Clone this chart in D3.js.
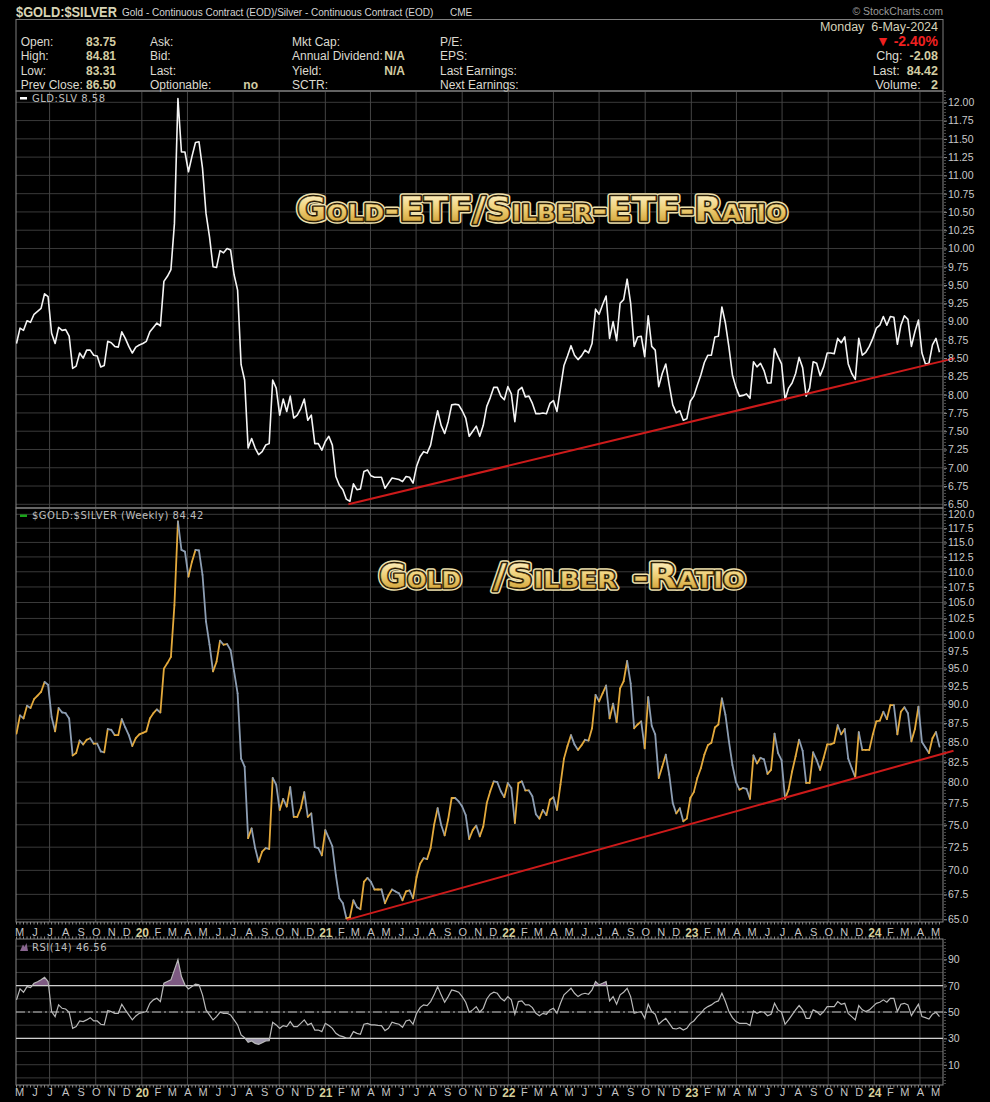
<!DOCTYPE html>
<html>
<head>
<meta charset="utf-8">
<title>$GOLD:$SILVER weekly</title>
<script src="https://cdn.jsdelivr.net/npm/d3@7"></script>
<style>
  body { margin: 0; background: #000; }
  svg { display: block; font-family: "Liberation Sans", Arial, sans-serif; }
  .fancy text { font-family: "DejaVu Sans", sans-serif; font-weight: bold; font-size: 33px; font-variant: small-caps; }
</style>
</head>
<body>
<svg id="chart"></svg>
<script>
// weekly closes, first week ends 26-Apr-2019
const firstWeek = "2019-04-26";

// $GOLD:$SILVER (weekly)
const ratioWeekly = [
  86.1, 88.5, 88.1, 89.8, 89.5, 90.7, 91.2, 91.7, 93.1, 92.7,
  88.3, 86.4, 89.5, 88.9, 88.8, 88.1, 83.3, 83.6, 85.2, 84.7,
  85.3, 85.5, 84.8, 84.8, 83.8, 83.7, 86.7, 86.6, 85.9, 85.9,
  88.0, 86.9, 85.9, 84.5, 85.5, 86.0, 86.2, 86.4, 88.1, 88.8,
  89.3, 88.9, 95.0, 95.8, 96.7, 104.6, 118.7, 113.7, 113.4, 109.2,
  111.7, 113.7, 113.6, 109.5, 102.0, 98.5, 94.6, 96.0, 99.1, 98.5,
  98.6, 97.7, 94.6, 91.5, 82.9, 81.9, 73.5, 74.6, 72.4, 70.9,
  72.0, 72.4, 72.3, 80.5, 79.7, 76.7, 78.0, 77.1, 79.4, 75.9,
  75.9, 76.9, 78.8, 75.9, 76.3, 72.5, 72.4, 71.6, 74.4, 73.5,
  72.6, 69.5, 67.1, 66.6, 65.1, 65.2, 66.9, 66.2, 66.0, 68.8,
  69.2, 68.8, 68.0, 68.0, 68.0, 66.6, 67.4, 68.0, 67.8, 67.6,
  66.9, 67.8, 67.9, 67.1, 69.3, 70.7, 71.3, 71.2, 72.4, 75.0,
  76.9, 75.0, 73.8, 75.6, 78.1, 78.1, 77.7, 77.1, 76.1, 73.4,
  74.4, 74.9, 73.7, 74.8, 77.5, 78.9, 80.1, 80.0, 78.9, 78.2,
  79.9, 79.3, 75.2, 79.9, 80.1, 79.0, 79.0, 78.3, 76.2, 75.7,
  76.7, 76.1, 77.9, 78.2, 76.7, 79.7, 82.9, 84.5, 85.9, 84.7,
  84.0, 84.6, 85.3, 85.2, 86.8, 91.3, 90.4, 91.5, 92.6, 88.1,
  90.1, 87.6, 92.2, 93.2, 96.1, 92.9, 86.8, 87.3, 87.7, 84.2,
  91.0, 87.1, 86.0, 80.5, 81.9, 83.4, 80.9, 77.5, 76.3, 76.9,
  75.4, 75.7, 78.1, 78.8, 80.5, 81.7, 83.4, 84.6, 84.9, 86.9,
  87.3, 90.8, 88.6, 85.1, 82.1, 80.0, 79.1, 79.3, 79.2, 78.0,
  83.3, 82.3, 83.0, 82.8, 81.0, 81.5, 86.1, 83.6, 82.7, 78.0,
  79.1, 81.3, 83.2, 85.3, 83.9, 79.9, 79.9, 83.7, 82.7, 81.5,
  83.0, 84.7, 84.7, 84.9, 87.2, 86.0, 86.7, 82.9, 81.7, 80.6,
  86.3, 84.0, 84.0, 84.0, 86.0, 87.7, 87.8, 89.0, 88.0, 89.9,
  89.9, 86.0, 89.0, 89.6, 88.8, 85.1, 86.7, 89.7, 85.0, 84.3,
  83.6, 85.5, 86.3, 84.42
];

// GLD:SLV (weekly)
const etfWeekly = [
  8.70, 8.91, 8.88, 9.01, 8.99, 9.10, 9.14, 9.18, 9.38, 9.34,
  8.84, 8.70, 8.92, 8.88, 8.89, 8.80, 8.36, 8.39, 8.57, 8.50,
  8.61, 8.61, 8.54, 8.53, 8.38, 8.40, 8.73, 8.71, 8.66, 8.65,
  8.86, 8.77, 8.66, 8.57, 8.65, 8.68, 8.70, 8.73, 8.86, 8.92,
  8.98, 8.94, 9.55, 9.62, 9.71, 10.34, 12.05, 11.32, 11.32, 11.05,
  11.26, 11.45, 11.46, 11.10, 10.48, 10.16, 9.75, 9.74, 9.97, 9.94,
  10.00, 9.98, 9.64, 9.43, 8.41, 8.20, 7.27, 7.40, 7.27, 7.18,
  7.22, 7.31, 7.33, 8.20, 8.09, 7.72, 7.94, 7.77, 7.98, 7.68,
  7.72, 7.81, 7.94, 7.65, 7.72, 7.33, 7.33, 7.24, 7.36, 7.43,
  7.31, 6.88, 6.76, 6.70, 6.57, 6.54, 6.78, 6.70, 6.71, 6.95,
  6.97, 6.89, 6.87, 6.87, 6.87, 6.72, 6.79, 6.86, 6.85, 6.84,
  6.81, 6.88, 6.87, 6.79, 7.02, 7.15, 7.22, 7.20, 7.31, 7.56,
  7.78, 7.58, 7.47, 7.63, 7.86, 7.87, 7.86, 7.78, 7.68, 7.43,
  7.50, 7.57, 7.43, 7.58, 7.84, 7.96, 8.10, 8.10, 7.98, 7.93,
  8.11, 8.01, 7.63, 8.06, 8.10, 7.97, 7.98, 7.88, 7.74, 7.74,
  7.75, 7.74, 7.88, 7.92, 7.77, 8.09, 8.40, 8.53, 8.67, 8.54,
  8.48, 8.53, 8.61, 8.57, 8.70, 9.17, 9.10, 9.23, 9.35, 8.77,
  9.00, 8.74, 9.25, 9.30, 9.58, 9.25, 8.66, 8.79, 8.80, 8.52,
  9.08, 8.66, 8.61, 8.11, 8.29, 8.42, 8.13, 7.86, 7.75, 7.78,
  7.65, 7.67, 7.91, 7.98, 8.13, 8.27, 8.44, 8.54, 8.54, 8.79,
  8.80, 9.20, 8.98, 8.65, 8.27, 8.10, 7.98, 7.99, 8.01, 7.95,
  8.45, 8.38, 8.43, 8.33, 8.16, 8.16, 8.63, 8.52, 8.42, 7.93,
  8.09, 8.16, 8.29, 8.51, 8.37, 7.98, 8.09, 8.45, 8.43, 8.26,
  8.38, 8.57, 8.57, 8.56, 8.77, 8.71, 8.79, 8.42, 8.29, 8.21,
  8.77, 8.54, 8.58, 8.66, 8.77, 8.91, 8.95, 9.07, 8.95, 9.07,
  9.06, 8.69, 8.95, 9.08, 9.03, 8.66, 8.86, 9.02, 8.57, 8.42,
  8.43, 8.68, 8.77, 8.58
];

// RSI(14) of $GOLD:$SILVER
const rsiWeekly = [
  59.2, 67.5, 65.0, 69.3, 68.5, 71.8, 73.0, 74.4, 76.4, 73.1,
  50.3, 46.5, 55.4, 52.8, 52.3, 49.8, 37.6, 38.9, 43.2, 42.7,
  44.0, 45.7, 43.2, 43.2, 40.7, 40.2, 51.1, 50.3, 49.0, 49.0,
  55.9, 51.6, 47.8, 44.0, 47.0, 49.0, 49.6, 50.3, 56.6, 59.2,
  60.4, 57.9, 71.8, 73.1, 74.4, 82.0, 89.6, 76.9, 70.6, 67.5,
  69.3, 71.1, 70.6, 63.0, 51.6, 47.8, 44.0, 46.5, 49.8, 49.0,
  49.0, 47.8, 44.0, 40.2, 32.6, 30.5, 27.0, 28.0, 26.2, 25.4,
  26.7, 28.0, 28.2, 42.2, 40.2, 37.6, 39.7, 38.9, 42.7, 38.9,
  38.9, 41.4, 44.0, 40.2, 41.4, 36.3, 36.3, 35.1, 41.4, 39.7,
  37.6, 33.8, 32.1, 31.3, 30.2, 30.4, 35.1, 33.8, 33.1, 40.7,
  41.4, 40.2, 40.2, 39.9, 39.7, 35.9, 37.6, 42.2, 41.4, 40.7,
  38.4, 43.2, 44.0, 40.7, 49.0, 53.3, 55.4, 54.9, 57.9, 63.0,
  69.3, 63.0, 57.4, 61.7, 66.8, 66.0, 65.0, 61.7, 57.4, 49.8,
  51.6, 54.1, 49.8, 52.8, 59.9, 63.5, 65.0, 64.2, 60.4, 58.4,
  61.7, 59.2, 48.3, 57.9, 58.4, 55.4, 55.4, 53.3, 49.0, 47.2,
  49.0, 48.3, 51.6, 52.8, 49.0, 56.6, 63.0, 65.5, 68.0, 64.2,
  61.7, 63.5, 64.2, 63.5, 66.8, 73.1, 70.6, 71.8, 73.1, 58.4,
  61.7, 55.9, 63.0, 65.0, 68.0, 61.7, 49.0, 49.8, 50.3, 45.2,
  55.9, 50.3, 48.3, 40.7, 43.2, 45.2, 41.4, 37.6, 37.1, 38.1,
  36.3, 37.6, 41.4, 43.2, 46.5, 49.0, 52.3, 54.1, 55.4, 57.4,
  58.4, 64.2, 57.9, 50.3, 45.7, 42.7, 41.4, 41.4, 41.4, 39.7,
  50.8, 49.0, 50.3, 49.8, 47.2, 48.3, 56.6, 51.6, 49.8, 40.7,
  44.0, 47.8, 51.6, 54.9, 51.6, 45.2, 45.2, 51.6, 50.3, 47.8,
  50.3, 54.1, 54.1, 54.1, 57.9, 55.9, 56.6, 49.0, 46.5, 44.0,
  54.9, 51.6, 50.3, 51.6, 54.1, 56.6, 57.4, 59.2, 57.4, 60.4,
  60.4, 50.3, 55.9, 56.6, 55.4, 47.2, 51.6, 55.9, 46.5, 45.7,
  44.7, 48.3, 49.8, 46.56
];

// hand drawn support lines
const etfTrend = [{ date: "2021-02-16", value: 6.50 }, { date: "2024-06-10", value: 8.50 }];
const ratioTrend = [{ date: "2021-02-13", value: 64.94 }, { date: "2024-06-07", value: 83.9 }];

// axis tick labels
const etfTicks = [6.50, 6.75, 7.00, 7.25, 7.50, 7.75, 8.00, 8.25, 8.50, 8.75, 9.00, 9.25,
  9.50, 9.75, 10.00, 10.25, 10.50, 10.75, 11.00, 11.25, 11.50, 11.75, 12.00];
const ratioTicks = [65.0, 67.5, 70.0, 72.5, 75.0, 77.5, 80.0, 82.5, 85.0, 87.5, 90.0, 92.5,
  95.0, 97.5, 100.0, 102.5, 105.0, 107.5, 110.0, 112.5, 115.0, 117.5, 120.0];
const rsiTicks = [10, 30, 50, 70, 90];
const rsiGrid = [0, 10, 20, 30, 40, 50, 60, 70, 80, 90, 100];
const monthLetters = ["J", "F", "M", "A", "M", "J", "J", "A", "S", "O", "N", "D"];

// quote box
const quoteLabels = [
  ["Open:", "High:", "Low:", "Prev Close:"],
  ["Ask:", "Bid:", "Last:", "Optionable:"],
  ["Mkt Cap:", "Annual Dividend:", "Yield:", "SCTR:"],
  ["P/E:", "EPS:", "Last Earnings:", "Next Earnings:"]
];
const quoteValues = [
  ["83.75", "84.81", "83.31", "86.50"],
  ["", "", "", "no"],
  ["", "N/A", "N/A", ""],
  ["", "", "", ""]
];
const quoteDate = "Monday  6-May-2024";
const quoteChangePct = "-2.40%";
const quoteSide = [["Chg:", "-2.08"], ["Last:", "84.42"], ["Volume:", "2"]];

// ---------------------------------------------------------------
const W = 990, H = 1102;
const left = 16, right = 943;
const gridColor = "#3a3a3a", borderColor = "#858585";
const gold = "#e3a93c", steel = "#8c9db2";

const svg = d3.select("#chart").attr("width", W).attr("height", H);
svg.append("rect").attr("width", W).attr("height", H).attr("fill", "#000");

const parseDay = d3.utcParse("%Y-%m-%d");
const week0 = parseDay(firstWeek);
const weekDates = ratioWeekly.map((v, i) => d3.utcDay.offset(week0, 7 * i));
const ratioData = ratioWeekly.map((v, i) => ({ date: weekDates[i], value: v }));
const etfData = etfWeekly.map((v, i) => ({ date: weekDates[i], value: v }));
const rsiData = rsiWeekly.map((v, i) => ({ date: weekDates[i], value: v }));

const x = d3.scaleUtc()
  .domain([parseDay("2019-04-25"), parseDay("2024-05-17")])
  .range([left, right]);

const panels = {
  etf: { top: 91, bottom: 508, y: d3.scaleLinear().domain([6.5, 12]).range([504.3, 102.3]) },
  ratio: { top: 508, bottom: 922, y: d3.scaleLog().domain([65, 120]).range([919.3, 514.3]) },
  rsi: { top: 939, bottom: 1085, y: d3.scaleLinear().domain([0, 100]).range([1077.9, 946.1]) }
};

const quarters = x.ticks(d3.utcMonth.every(3));
const defs = svg.append("defs");

Object.entries(panels).forEach(([key, p]) => {
  defs.append("clipPath").attr("id", "clip-" + key)
    .append("rect").attr("x", left).attr("y", p.top)
    .attr("width", right - left).attr("height", p.bottom - p.top);
});

const grad = defs.append("linearGradient").attr("id", "goldFill")
  .attr("x1", 0).attr("y1", 0).attr("x2", 0).attr("y2", 1);
grad.append("stop").attr("offset", "0%").attr("stop-color", "#fff8d8");
grad.append("stop").attr("offset", "45%").attr("stop-color", "#f0d27c");
grad.append("stop").attr("offset", "100%").attr("stop-color", "#c8921f");

// squeeze a text horizontally so it spans the given width
function fitText(sel, x0, y0, width) {
  const natural = sel.node().getComputedTextLength();
  const k = Math.min(1, width / natural);
  sel.attr("x", 0).attr("y", 0).attr("transform", `translate(${x0},${y0}) scale(${k},1)`);
}

function drawGrid(p, hValues) {
  const g = svg.append("g");
  g.selectAll("line.h").data(hValues).join("line")
    .attr("x1", left).attr("x2", right)
    .attr("y1", d => p.y(d)).attr("y2", d => p.y(d))
    .attr("stroke", gridColor).attr("stroke-width", 1);
  g.selectAll("line.v").data(quarters).join("line")
    .attr("x1", d => x(d)).attr("x2", d => x(d))
    .attr("y1", p.top).attr("y2", p.bottom)
    .attr("stroke", "#444").attr("stroke-width", 1);
  g.append("rect")
    .attr("x", left).attr("y", p.top)
    .attr("width", right - left).attr("height", p.bottom - p.top)
    .attr("fill", "none").attr("stroke", borderColor);
  return g;
}

function drawYAxis(p, values, fmt) {
  const ax = svg.append("g")
    .attr("transform", `translate(${right + 1},0)`)
    .call(d3.axisRight(p.y).tickValues(values).tickFormat(fmt).tickSize(3).tickPadding(1));
  ax.select(".domain").remove();
  ax.append("line").attr("x1", 1).attr("x2", 1).attr("y1", p.top).attr("y2", p.bottom)
    .attr("stroke", "#8a8a8a").attr("stroke-dasharray", "1,2");
  ax.selectAll(".tick line").attr("stroke", "#8a8a8a");
  ax.selectAll(".tick text")
    .attr("fill", "#c9c9c9").attr("font-size", 10.5)
    .attr("font-family", "Liberation Sans, Arial, sans-serif");
}

// ---- header -----------------------------------------------------
fitText(svg.append("text")
  .attr("font-size", 15.5).attr("font-weight", "bold").attr("fill", "#d8d4b6")
  .text("$GOLD:$SILVER"), 16, 16.5, 101);
fitText(svg.append("text")
  .attr("font-size", 11.5).attr("fill", "#d4d4d4")
  .text("Gold - Continuous Contract (EOD)/Silver - Continuous Contract (EOD)"), 122, 15.5, 312);
fitText(svg.append("text")
  .attr("font-size", 10).attr("fill", "#d4d4d4")
  .text("CME"), 450, 15.5, 29);
svg.append("text").attr("x", right).attr("y", 15).attr("text-anchor", "end")
  .attr("font-size", 10.5).attr("fill", "#9a9a9a")
  .text("\u00A9 StockCharts.com");

svg.append("rect").attr("x", left).attr("y", 19.5)
  .attr("width", right - left).attr("height", 71.5)
  .attr("fill", "none").attr("stroke", "#7f7f7f");

const rowBase = [46, 60.3, 74.5, 88.6];
const colLabelX = [20.7, 150, 292, 440];
const colValueX = [116, 258, 405, 0];
quoteLabels.forEach((col, c) => {
  col.forEach((lab, r) => {
    svg.append("text").attr("x", colLabelX[c]).attr("y", rowBase[r])
      .attr("font-size", 12).attr("fill", "#dcdad0").text(lab);
    const val = quoteValues[c][r];
    if (val) {
      svg.append("text").attr("x", colValueX[c]).attr("y", rowBase[r])
        .attr("text-anchor", "end").attr("font-size", 12).attr("font-weight", "bold")
        .attr("fill", "#d3cda4").text(val);
    }
  });
});

svg.append("text").attr("x", 938).attr("y", 31).attr("text-anchor", "end")
  .attr("font-size", 12.5).attr("fill", "#d6d2ba")
  .style("white-space", "pre").text(quoteDate);
svg.append("text").attr("x", 938).attr("y", 46).attr("text-anchor", "end")
  .attr("font-size", 14).attr("font-weight", "bold").attr("fill", "#f02020")
  .text("\u25BC " + quoteChangePct);
quoteSide.forEach((d, i) => {
  const t = svg.append("text").attr("x", 938).attr("y", rowBase[i + 1])
    .attr("text-anchor", "end").attr("font-size", 12.5).style("white-space", "pre");
  t.append("tspan").attr("fill", "#dcdad0").text(d[0] + (i === 2 ? "   " : "  "));
  t.append("tspan").attr("fill", "#d3cda4").attr("font-weight", "bold").text(d[1]);
});

// ---- panel 1 : GLD:SLV -------------------------------------------
const p1 = panels.etf;
drawGrid(p1, etfTicks);
svg.append("path").datum(etfData)
  .attr("clip-path", "url(#clip-etf)")
  .attr("fill", "none").attr("stroke", "#f4f4f4").attr("stroke-width", 1.6)
  .attr("stroke-linejoin", "round")
  .attr("d", d3.line().x(d => x(d.date)).y(d => p1.y(d.value)));
svg.append("line")
  .attr("x1", x(parseDay(etfTrend[0].date))).attr("y1", p1.y(etfTrend[0].value))
  .attr("x2", x(parseDay(etfTrend[1].date))).attr("y2", p1.y(etfTrend[1].value))
  .attr("stroke", "#cc1a1a").attr("stroke-width", 2);
drawYAxis(p1, etfTicks, d3.format(".2f"));

svg.append("rect").attr("x", 20).attr("y", 97).attr("width", 7).attr("height", 2.5).attr("fill", "#fff");
svg.append("text").attr("x", 32).attr("y", 101.5)
  .attr("font-family", "DejaVu Sans, sans-serif").attr("font-size", 10).attr("letter-spacing", 0.5)
  .attr("fill", "#bdbdbd").text("GLD:SLV " + d3.format(".2f")(etfWeekly[etfWeekly.length - 1]));

// ---- panel 2 : $GOLD:$SILVER --------------------------------------
const p2 = panels.ratio;
drawGrid(p2, ratioTicks);
svg.append("g").attr("clip-path", "url(#clip-ratio)")
  .selectAll("line").data(d3.pairs(ratioData)).join("line")
  .attr("x1", d => x(d[0].date)).attr("y1", d => p2.y(d[0].value))
  .attr("x2", d => x(d[1].date)).attr("y2", d => p2.y(d[1].value))
  .attr("stroke", d => d[1].value >= d[0].value ? gold : steel)
  .attr("stroke-width", 1.8).attr("stroke-linecap", "round");
svg.append("line")
  .attr("x1", x(parseDay(ratioTrend[0].date))).attr("y1", p2.y(ratioTrend[0].value))
  .attr("x2", x(parseDay(ratioTrend[1].date))).attr("y2", p2.y(ratioTrend[1].value))
  .attr("stroke", "#cc1a1a").attr("stroke-width", 2);
drawYAxis(p2, ratioTicks, d3.format(".1f"));

svg.append("rect").attr("x", 20).attr("y", 514.5).attr("width", 7).attr("height", 2.5).attr("fill", "#1aa51a");
svg.append("text").attr("x", 32).attr("y", 519)
  .attr("font-family", "DejaVu Sans, sans-serif").attr("font-size", 10).attr("letter-spacing", 0.5)
  .attr("fill", "#bdbdbd").text("$GOLD:$SILVER (Weekly) " + d3.format(".2f")(ratioWeekly[ratioWeekly.length - 1]));

// ---- panel 3 : RSI ------------------------------------------------
const p3 = panels.rsi;
drawGrid(p3, rsiGrid);
const rsiG = svg.append("g").attr("clip-path", "url(#clip-rsi)");
defs.append("clipPath").attr("id", "clip-ob").append("rect")
  .attr("x", left).attr("y", p3.top).attr("width", right - left).attr("height", p3.y(70) - p3.top);
defs.append("clipPath").attr("id", "clip-os").append("rect")
  .attr("x", left).attr("y", p3.y(30)).attr("width", right - left).attr("height", p3.bottom - p3.y(30));
rsiG.append("path").datum(rsiData).attr("clip-path", "url(#clip-ob)")
  .attr("fill", "#7d5a82")
  .attr("d", d3.area().x(d => x(d.date)).y0(p3.y(70)).y1(d => p3.y(d.value)));
rsiG.append("path").datum(rsiData).attr("clip-path", "url(#clip-os)")
  .attr("fill", "#9a94a8")
  .attr("d", d3.area().x(d => x(d.date)).y0(p3.y(30)).y1(d => p3.y(d.value)));
[30, 70].forEach(v => rsiG.append("line")
  .attr("x1", left).attr("x2", right).attr("y1", p3.y(v)).attr("y2", p3.y(v))
  .attr("stroke", "#cfcfcf").attr("stroke-width", 1.3));
rsiG.append("line")
  .attr("x1", left).attr("x2", right).attr("y1", p3.y(50)).attr("y2", p3.y(50))
  .attr("stroke", "#bdbdbd").attr("stroke-width", 1.2).attr("stroke-dasharray", "9,3,2,3");
rsiG.append("path").datum(rsiData)
  .attr("fill", "none").attr("stroke", "#b9b9b9").attr("stroke-width", 1.2)
  .attr("d", d3.line().x(d => x(d.date)).y(d => p3.y(d.value)));
drawYAxis(p3, rsiTicks, d3.format("d"));

svg.append("path").attr("d", "M20,951 L23,944.5 L24.5,947 L26.5,943 L28,951 Z").attr("fill", "#8a6690");
svg.append("text").attr("x", 32).attr("y", 950.5)
  .attr("font-family", "DejaVu Sans, sans-serif").attr("font-size", 10).attr("letter-spacing", 0.5)
  .attr("fill", "#bdbdbd").text("RSI(14) " + d3.format(".2f")(rsiWeekly[rsiWeekly.length - 1]));

// ---- date axes ------------------------------------------------------
function drawDateAxis(yPos, tickRows) {
  const ax = svg.append("g").attr("transform", `translate(0,${yPos})`)
    .call(d3.axisBottom(x).ticks(d3.utcMonth.every(1)).tickSize(0).tickPadding(2)
      .tickFormat(d => d.getUTCMonth() === 0 ? d3.utcFormat("%y")(d) : monthLetters[d.getUTCMonth()]));
  ax.select(".domain").remove();
  ax.selectAll(".tick text")
    .attr("font-family", "Liberation Sans, Arial, sans-serif")
    .attr("fill", d => d.getUTCMonth() === 0 ? "#d6cf9c" : "#c4c4c4")
    .attr("font-weight", d => d.getUTCMonth() === 0 ? "bold" : "normal")
    .attr("font-size", d => d.getUTCMonth() === 0 ? 12 : 11);
  tickRows.forEach(([y1, y2]) => {
    svg.append("g").selectAll("line").data(weekDates).join("line")
      .attr("x1", d => x(d)).attr("x2", d => x(d)).attr("y1", y1).attr("y2", y2)
      .attr("stroke", "#8a8a8a").attr("stroke-width", 1);
  });
}
drawDateAxis(926, [[922, 924.5], [936.5, 939]]);
drawDateAxis(1086, [[1085, 1087.5]]);

// ---- overlay titles -------------------------------------------------
function goldTitle(txt, x0, base, len) {
  const g = svg.append("g").attr("class", "fancy");
  const layers = [
    { fill: "#efe0ac", stroke: "#efe0ac", sw: 5.5 },
    { fill: "#1c1405", stroke: "#1c1405", sw: 2.6 },
    { fill: "url(#goldFill)", stroke: "#5a3e08", sw: 0.5 }
  ];
  layers.forEach(l => g.append("text")
    .attr("x", x0).attr("y", base)
    .attr("textLength", len).attr("lengthAdjust", "spacingAndGlyphs")
    .attr("fill", l.fill).attr("stroke", l.stroke).attr("stroke-width", l.sw)
    .attr("stroke-linejoin", "round")
    .text(txt));
}
goldTitle("Gold-ETF/Silber-ETF-Ratio", 297, 221, 490);
goldTitle("Gold", 379, 588, 82);
goldTitle("/Silber", 493, 588, 124);
goldTitle("-Ratio", 633, 588, 112);
</script>
</body>
</html>
